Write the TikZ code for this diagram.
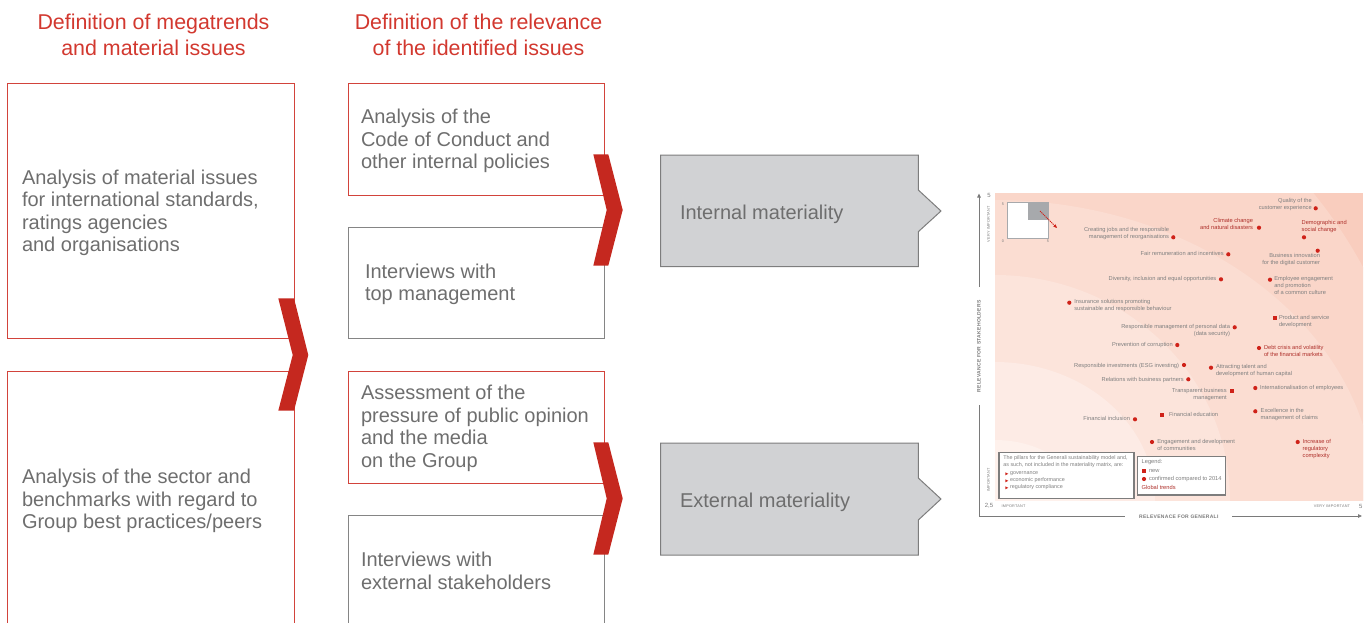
\documentclass[tikz,border=0pt]{standalone}
\usepackage{fontspec}
\setmainfont{Liberation Sans}
\newfontfamily\axisfont[LetterSpace=6]{Liberation Sans}
\usetikzlibrary{arrows.meta}
\definecolor{headred}{HTML}{D2382F}
\definecolor{boxred}{HTML}{D2433B}
\definecolor{chevred}{HTML}{C5281F}
\definecolor{textgray}{HTML}{6E6E6E}
\definecolor{boxgray}{HTML}{858585}
\definecolor{matfill}{HTML}{D1D2D4}
\definecolor{matstroke}{HTML}{7D7D7D}
\definecolor{mgray}{HTML}{7F7F7F}
\definecolor{mredtext}{HTML}{AE2F2A}
\definecolor{dotred}{HTML}{CF2219}
\definecolor{bgA}{HTML}{F9CDBE}
\definecolor{bgB}{HTML}{FAD6C9}
\definecolor{bgC}{HTML}{FBDDD2}
\definecolor{bgD}{HTML}{FCE4DB}
\definecolor{bgE}{HTML}{FDEBE5}
\definecolor{bgF}{HTML}{FEF1EC}
\definecolor{axisgray}{HTML}{7A7A7A}
\definecolor{insetgray}{HTML}{A7A9AC}
\newcommand\mdot[1]{\fill[dotred] #1 circle (2.1pt);}
\newcommand\msq[1]{\fill[dotred] #1 ++(-1.9,-1.9) rectangle ++(3.8,3.8);}
\begin{document}
\begin{tikzpicture}[x=1pt,y=-1pt,
  every node/.style={inner sep=0pt, outer sep=0pt},
  strutted/.style={execute at begin node=\strut, execute at end node=\strut},
  head/.style={font=\fontsize{21.4}{26}\selectfont, text=headred, align=center, strutted},
  boxtext/.style={font=\fontsize{20}{22.4}\selectfont, text=textgray, align=left, anchor=west, strutted},
  redbox/.style={draw=boxred, line width=1pt},
  graybox/.style={draw=boxgray, line width=1pt},
  chevron/.style={fill=chevred},
  matbox/.style={fill=matfill, draw=matstroke, line width=1pt},
  mtxt/.style={font=\fontsize{5.7}{7}\selectfont, text=mgray, strutted},
  ml/.style={mtxt, anchor=west, align=left},
  mr/.style={mtxt, anchor=east, align=right},
  mlred/.style={ml, text=mredtext},
  mrred/.style={mr, text=mredtext},
  pill/.style={ml, font=\fontsize{5.4}{7}\selectfont},
  axtitle/.style={font=\axisfont\bfseries\fontsize{5}{6}\selectfont, text=axisgray},
  axtiny/.style={font=\axisfont\fontsize{3.8}{4.5}\selectfont, text=axisgray},
  axnum/.style={font=\fontsize{6}{7}\selectfont, text=axisgray},
  axline/.style={draw=axisgray, line width=0.8pt},
  legbox/.style={fill=white, draw=matstroke, line width=1.1pt}
]
\useasboundingbox (0,0) rectangle (1369,622);

% headings
\node[head] (h1) at (153.5,39) {Definition of megatrends\\and material issues};
\node[head] (h2) at (478.5,39) {Definition of the relevance\\of the identified issues};

% left column boxes
\draw[redbox] (7,83) rectangle (294,338);
\draw[redbox] (7,371) rectangle (294,630);
\node[boxtext] (l1) at (22,214.2) {Analysis of material issues\\for international standards,\\ratings agencies\\and organisations};
\node[boxtext] (l2) at (22,502.2) {Analysis of the sector and\\benchmarks with regard to\\Group best practices/peers};

% second column boxes
\draw[redbox] (348,83) rectangle (604,195);
\draw[graybox] (348,227) rectangle (604,338);
\draw[redbox] (348,371) rectangle (604,483);
\draw[graybox] (348,515) rectangle (604,630);
\node[boxtext] (b1) at (361,142.2) {Analysis of the\\Code of Conduct and\\other internal policies};
\node[boxtext] (b2) at (365,285.7) {Interviews with\\top management};
\node[boxtext] (b3) at (361,429.7) {Assessment of the\\pressure of public opinion\\and the media\\on the Group};
\node[boxtext] (b4) at (361,574) {Interviews with\\external stakeholders};

% chevrons
\fill[chevron] (278.3,298.3) -- (294,298.3) -- (308.3,355) -- (294,410.7) -- (278.3,410.7) -- (292.7,355) -- cycle;
\fill[chevron] (593.3,154.3) -- (608.3,154.3) -- (622.7,210) -- (608.3,265.7) -- (593.3,265.7) -- (606.7,210) -- cycle;
\fill[chevron] (593.3,442.3) -- (608.3,442.3) -- (622.7,498.5) -- (608.3,554.7) -- (593.3,554.7) -- (606.7,498.5) -- cycle;

% materiality boxes
\draw[matbox] (660.7,155) -- (918.3,155) -- (918.3,190) -- (941,211) -- (918.3,231.7) -- (918.3,266.7) -- (660.7,266.7) -- cycle;
\draw[matbox] (660.7,443) -- (918.3,443) -- (918.3,478) -- (941,499) -- (918.3,520) -- (918.3,555) -- (660.7,555) -- cycle;
\node[boxtext] (im) at (680,215.5) {Internal materiality};
\node[boxtext] (em) at (680,503.5) {External materiality};

% matrix background
\begin{scope}
\clip (995,193) rectangle (1363,500);
\fill[bgA] (995,193) rectangle (1363,500);
\fill[bgB] (995,500) ellipse [x radius=426pt, y radius=462pt];
\fill[bgC] (995,500) ellipse [x radius=380pt, y radius=300pt];
\fill[bgD] (995,500) ellipse [x radius=235pt, y radius=225pt];
\fill[bgE] (995,500) ellipse [x radius=160pt, y radius=138pt];
\fill[bgF] (995,500) ellipse [x radius=85pt, y radius=60pt];
\end{scope}

% axes
\coordinate (ytop) at (979,193.5);
\coordinate (ymid) at (979,287);
\coordinate (ylow) at (979,405);
\coordinate (corner) at (979,516);
\coordinate (xmid) at (1125,516);
\coordinate (xlow) at (1232,516);
\coordinate (xend) at (1362,516);
\draw[axline, -{Triangle[length=4pt,width=3.5pt]}] (ymid) -- (ytop);
\draw[axline] (ylow) -- (corner) -- (xmid);
\draw[axline, -{Triangle[length=4pt,width=3.5pt]}] (xlow) -- (xend);
\node[axtitle, rotate=90] (ylab) at (979,346.5) {RELEVANCE FOR STAKEHOLDERS};
\node[axtitle] (xlab) at (1178.8,517) {RELEVENACE FOR GENERALI};
\node[axnum] (y5) at (989,195.5) {5};
\node[axtiny, rotate=90] (yvi) at (988.5,224) {VERY IMPORTANT};
\node[axtiny, rotate=90] (yi) at (988.5,480) {IMPORTANT};
\node[axnum] (x25) at (989,506) {2,5};
\node[axtiny] (xi) at (1013.5,506) {IMPORTANT};
\node[axtiny] (xvi) at (1332,506) {VERY IMPORTANT};
\node[axnum] (x5) at (1360.7,506) {5};

% inset
\fill[white, draw=insetgray, line width=0.8pt] (1007,202) rectangle (1048,238);
\fill[insetgray] (1028,202) rectangle (1048,220);
\node[axtiny] (i5a) at (1003,204) {5};
\node[axtiny] (i0) at (1003,241) {0};
\node[axtiny] (i5b) at (1048,241) {5};
\coordinate (insA) at (1040,211);
\coordinate (insB) at (1057,228);
\draw[dotred, line width=0.8pt, dash pattern=on 1.2pt off 0.8pt, -{Stealth[length=4pt,width=3.5pt]}] (insA) -- (insB);

% matrix items
\node[mr] (q1) at (1311.7,205) {Quality of the\\customer experience}; \mdot{(1315.7,208.3)}
\node[mrred] (q2) at (1253,225) {Climate change\\and natural disasters}; \mdot{(1259,227.7)}
\node[mlred] (q3) at (1301.7,227.2) {Demographic and\\social change}; \mdot{(1304,237.3)}
\node[mr] (q4) at (1169,234.2) {Creating jobs and the responsible\\management of reorganisations}; \mdot{(1173.3,237.3)}
\node[mr] (q5) at (1320,260.2) {Business innovation\\for the digital customer}; \mdot{(1317.7,250.7)}
\node[mr] (q6) at (1223.7,254.3) {Fair remuneration and incentives}; \mdot{(1228.3,254.3)}
\node[mr] (q7) at (1216.3,279.3) {Diversity, inclusion and equal opportunities}; \mdot{(1221,279.3)}
\node[ml] (q8) at (1274.3,286.7) {Employee engagement\\and promotion\\of a common culture}; \mdot{(1270,279.7)}
\node[ml] (q9) at (1074.3,306.3) {Insurance solutions promoting\\sustainable and responsible behaviour}; \mdot{(1069.3,302.7)}
\node[ml] (q10) at (1279,321.8) {Product and service\\development}; \msq{(1275,318.3)}
\node[mr] (q11) at (1230,331.3) {Responsible management of personal data\\(data security)}; \mdot{(1234.7,327.3)}
\node[mr] (q12) at (1172.7,344.7) {Prevention of corruption}; \mdot{(1177.3,345)}
\node[mlred] (q13) at (1264,352.2) {Debt crisis and volatility\\of the financial markets}; \mdot{(1259,348)}
\node[mr] (q14) at (1179,366) {Responsible investments (ESG investing)}; \mdot{(1184,365)}
\node[ml] (q15) at (1216,371.2) {Attracting talent and\\development of human capital}; \mdot{(1211,367.7)}
\node[mr] (q16) at (1183.7,379.7) {Relations with business partners}; \mdot{(1188.3,379.3)}
\node[mr] (q17) at (1226.7,395.2) {Transparent business\\management}; \msq{(1231.7,391.3)}
\node[ml] (q18) at (1260,388) {Internationalisation of employees}; \mdot{(1255.3,388)}
\node[ml] (q19) at (1169,415.3) {Financial education}; \msq{(1161.7,415.3)}
\node[mr] (q20) at (1130,419.3) {Financial inclusion}; \mdot{(1135,419.3)}
\node[ml] (q21) at (1260.7,414.8) {Excellence in the\\management of claims}; \mdot{(1255.3,411.3)}
\node[ml] (q22) at (1157.3,446) {Engagement and development\\of communities}; \mdot{(1152,442)}
\node[mlred] (q23) at (1302.7,449.5) {Increase of\\regulatory\\complexity}; \mdot{(1297.7,442)}

% pillars box
\draw[legbox] (999,452.7) rectangle (1134,498.3);
\node[pill] (p1) at (1003.3,462.5) {The pillars for the Generali sustainability model and,\\as such, not included in the materiality matrix, are:};
\node[pill] (p2) at (1010,480.7) {governance\\economic performance\\regulatory compliance};
\fill[dotred] (1005.3,472.3) -- (1008.3,473.8) -- (1005.3,475.3) -- cycle;
\fill[dotred] (1005.3,479.3) -- (1008.3,480.8) -- (1005.3,482.3) -- cycle;
\fill[dotred] (1005.3,486.3) -- (1008.3,487.8) -- (1005.3,489.3) -- cycle;

% legend box
\draw[legbox] (1137.3,456.7) rectangle (1225.7,495);
\node[ml] (lg) at (1141.7,461.7) {Legend:};
\msq{(1144,471)}
\node[ml] (lgn) at (1149,471) {new};
\mdot{(1144,479)}
\node[ml] (lgc) at (1149,479) {confirmed compared to 2014};
\node[mlred] (lgg) at (1141.7,487.7) {Global trends};
\end{tikzpicture}
\end{document}
